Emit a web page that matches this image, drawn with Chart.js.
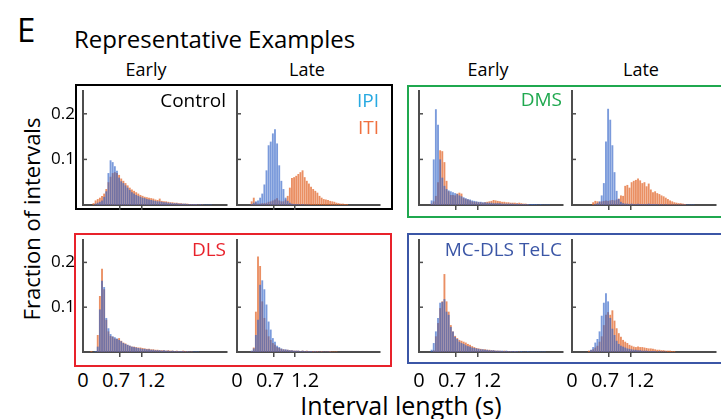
<!DOCTYPE html>
<html>
<head>
<meta charset="utf-8">
<script src="https://cdn.jsdelivr.net/npm/chart.js@4.4.1/dist/chart.umd.min.js"></script>
<style>
  body { margin: 0; width: 721px; height: 419px; overflow: hidden; background: #fff;
         font-family: "Open Sans", sans-serif; color: #000; position: relative; }
  .t { position: absolute; white-space: nowrap; line-height: 1; }
  .c { transform: translateX(-50%); }
  .box { position: absolute; box-sizing: border-box; border: 2.5px solid; }
  canvas { position: absolute; }
</style>
</head>
<body>

<div class="t" style="left:17px;top:13px;font-size:33px">E</div>
<div class="t" style="left:74px;top:27px;font-size:24px">Representative Examples</div>

<div class="t c" style="left:146px;top:60px;font-size:18px">Early</div>
<div class="t c" style="left:307px;top:60px;font-size:18px">Late</div>
<div class="t c" style="left:488px;top:60px;font-size:18px">Early</div>
<div class="t c" style="left:641px;top:60px;font-size:18px">Late</div>

<div class="box" style="left:75px;top:84px;width:318px;height:126px;border-color:#000"></div>
<div class="box" style="left:407px;top:85px;width:330px;height:133px;border-color:#1fa84f"></div>
<div class="box" style="left:74px;top:233px;width:318px;height:134px;border-color:#e8222b"></div>
<div class="box" style="left:407px;top:233px;width:330px;height:131px;border-color:#3b56a6"></div>

<div class="t" style="left:31px;top:219px;font-size:22px;transform:translate(-50%,-50%) rotate(-90deg)">Fraction of intervals</div>
<div class="t c" style="left:401px;top:393px;font-size:25px">Interval length (s)</div>

<div id="root"></div>

<script>
// bin centres of the 0.05 s histogram bins
const binCenters = [
  0.025, 0.075, 0.125, 0.175, 0.225, 0.275, 0.325, 0.375, 0.425, 0.475,
  0.525, 0.575, 0.625, 0.675, 0.725, 0.775, 0.825, 0.875, 0.925, 0.975,
  1.025, 1.075, 1.125, 1.175, 1.225, 1.275, 1.325, 1.375, 1.425, 1.475,
  1.525, 1.575, 1.625, 1.675, 1.725, 1.775, 1.825, 1.875, 1.925, 1.975,
  2.025, 2.075, 2.125, 2.175, 2.225, 2.275, 2.325, 2.375, 2.425, 2.475,
  2.525, 2.575, 2.625, 2.675, 2.725, 2.775, 2.825, 2.875, 2.925, 2.975,
  3.025, 3.075, 3.125, 3.175
];

const xTicks = [0.7, 1.2];
const yTicks = [0.1, 0.2];
const xTickLabels = ['0', '0.7', '1.2'];

// Control
const ctrlEarlyIPI = [0, 0, 0.003, 0.005, 0.007, 0.01, 0.018, 0.03, 0.07, 0.098,
  0.094, 0.085, 0.075, 0.06, 0.052, 0.048, 0.043, 0.038, 0.033, 0.028,
  0.025, 0.022, 0.02, 0.018, 0.016, 0.015, 0.013, 0.012, 0.011, 0.01,
  0.009, 0.008, 0.008, 0.007, 0.006, 0.006, 0.005, 0.005, 0.004, 0.004,
  0.004, 0.003, 0.003, 0.003, 0.003, 0.002, 0.002, 0.002, 0.002, 0.002,
  0.001, 0.002, 0.001, 0.001, 0.001, 0.001, 0.001];
const ctrlEarlyITI = [0, 0.004, 0.01, 0.013, 0.016, 0.02, 0.025, 0.035, 0.05, 0.062,
  0.07, 0.072, 0.07, 0.066, 0.058, 0.053, 0.048, 0.043, 0.038, 0.034,
  0.031, 0.028, 0.025, 0.022, 0.02, 0.018, 0.017, 0.016, 0.015, 0.014,
  0.012, 0.011, 0.014, 0.009, 0.008, 0.008, 0.007, 0.006, 0.006, 0.005,
  0.005, 0.004, 0.004, 0.003, 0.003, 0.003, 0.002, 0.002, 0.002, 0.002,
  0.001, 0.001, 0.001];
const ctrlLateIPI = [0, 0, 0, 0.002, 0.005, 0.008, 0.01, 0.016, 0.025, 0.045,
  0.076, 0.131, 0.139, 0.157, 0.166, 0.135, 0.087, 0.053, 0.035, 0.016,
  0.009, 0.005, 0.003, 0.002, 0.002, 0.002, 0.001, 0.002, 0.001, 0.001, 0.001];
const ctrlLateITI = [0, 0, 0, 0.008, 0.016, 0.006, 0.003, 0.003, 0.004, 0.004,
  0.005, 0.007, 0.008, 0.01, 0.012, 0.015, 0.01, 0.008, 0.008, 0.012,
  0.02, 0.038, 0.059, 0.061, 0.064, 0.068, 0.072, 0.076, 0.061, 0.053,
  0.047, 0.04, 0.035, 0.031, 0.027, 0.02, 0.016, 0.013, 0.012, 0.011,
  0.009, 0.008, 0.007, 0.005, 0.004, 0.003, 0.003, 0.002, 0.002];

// DMS
const dmsEarlyIPI = [0, 0, 0.01, 0.1, 0.21, 0.176, 0.1, 0.06, 0.042, 0.035,
  0.032, 0.03, 0.028, 0.026, 0.024, 0.021, 0.019, 0.017, 0.015, 0.013,
  0.012, 0.01, 0.009, 0.008, 0.007, 0.007, 0.006, 0.006, 0.005, 0.005,
  0.005, 0.004, 0.004, 0.004, 0.004, 0.003, 0.003, 0.003, 0.003, 0.003,
  0.003, 0.002, 0.003, 0.002, 0.002, 0.002, 0.002, 0.002, 0.002, 0.002,
  0.002, 0.002, 0.001, 0.002, 0.001, 0.001, 0.001, 0.001];
const dmsEarlyITI = [0, 0, 0.003, 0.008, 0.02, 0.05, 0.12, 0.118, 0.094, 0.053,
  0.03, 0.022, 0.022, 0.021, 0.025, 0.027, 0.025, 0.015, 0.013, 0.012,
  0.01, 0.008, 0.007, 0.007, 0.006, 0.006, 0.005, 0.006, 0.007, 0.008,
  0.009, 0.011, 0.01, 0.009, 0.008, 0.007, 0.007, 0.006, 0.006, 0.005,
  0.005, 0.005, 0.004, 0.005, 0.004, 0.003, 0.003, 0.002];
const dmsLateIPI = [0, 0, 0, 0, 0, 0, 0, 0.002, 0.004, 0.008,
  0.021, 0.048, 0.139, 0.211, 0.187, 0.131, 0.072, 0.031, 0.013, 0.007,
  0.004, 0.003, 0.003, 0.002, 0.003, 0.002, 0.002, 0.003, 0.002, 0.002,
  0.002, 0.002, 0.003, 0.002, 0.002, 0.002, 0.002, 0.001, 0.002, 0.001,
  0.002, 0.001, 0.001, 0.001, 0.001, 0.001, 0.001, 0.001, 0.001, 0.001,
  0.001, 0.001, 0.001, 0.001];
const dmsLateITI = [0, 0, 0, 0, 0, 0, 0.006, 0.009, 0.008, 0.007,
  0.008, 0.009, 0.01, 0.009, 0.01, 0.011, 0.01, 0.012, 0.014, 0.021,
  0.02, 0.042, 0.044, 0.038, 0.05, 0.053, 0.055, 0.058, 0.054, 0.048,
  0.05, 0.041, 0.047, 0.034, 0.028, 0.03, 0.026, 0.024, 0.021, 0.019,
  0.016, 0.013, 0.01, 0.008, 0.006, 0.005, 0.004, 0.004, 0.003, 0.002];

// DLS
const dlsEarlyIPI = [0, 0, 0.002, 0.012, 0.095, 0.159, 0.145, 0.076, 0.053, 0.04,
  0.035, 0.033, 0.03, 0.027, 0.024, 0.02, 0.018, 0.016, 0.014, 0.012,
  0.011, 0.01, 0.009, 0.008, 0.007, 0.007, 0.006, 0.006, 0.005, 0.005,
  0.004, 0.004, 0.004, 0.003, 0.004, 0.003, 0.003, 0.002, 0.003, 0.002,
  0.002, 0.002, 0.002, 0.002, 0.001, 0.002, 0.001, 0.001, 0.001, 0.001, 0.001];
const dlsEarlyITI = [0.002, 0, 0, 0.038, 0.125, 0.186, 0.14, 0.072, 0.046, 0.036,
  0.034, 0.03, 0.029, 0.031, 0.025, 0.021, 0.019, 0.016, 0.014, 0.012,
  0.012, 0.011, 0.01, 0.01, 0.009, 0.008, 0.007, 0.007, 0.006, 0.006,
  0.005, 0.005, 0.004, 0.004, 0.004, 0.003, 0.004, 0.003, 0.003, 0.002,
  0.003, 0.002, 0.002, 0.003, 0.002, 0.002, 0.001, 0.001];
const dlsLateIPI = [0, 0, 0, 0.003, 0.008, 0.038, 0.072, 0.15, 0.16, 0.14,
  0.106, 0.068, 0.05, 0.031, 0.023, 0.014, 0.011, 0.008, 0.006, 0.006,
  0.005, 0.004, 0.004, 0.003, 0.003, 0.003, 0.002, 0.003, 0.002, 0.002,
  0.002, 0.002, 0.001, 0.002, 0.001, 0.001, 0.001, 0.001, 0.001, 0.001, 0.001];
const dlsLateITI = [0, 0, 0, 0.002, 0.01, 0.09, 0.213, 0.192, 0.113, 0.076,
  0.05, 0.035, 0.027, 0.02, 0.016, 0.011, 0.009, 0.007, 0.006, 0.005,
  0.005, 0.004, 0.004, 0.003, 0.003, 0.003, 0.002, 0.003, 0.002, 0.003,
  0.002, 0.002, 0.002, 0.002, 0.002, 0.001, 0.002, 0.001, 0.001, 0.001,
  0.002, 0.001, 0.001, 0.001];

// MC-DLS TeLC
const mcEarlyIPI = [0, 0, 0.005, 0.02, 0.046, 0.076, 0.11, 0.112, 0.118, 0.09,
  0.083, 0.056, 0.046, 0.034, 0.029, 0.023, 0.02, 0.018, 0.015, 0.013,
  0.012, 0.01, 0.009, 0.008, 0.007, 0.006, 0.006, 0.005, 0.005, 0.004,
  0.004, 0.004, 0.003, 0.003, 0.003, 0.003, 0.002, 0.003, 0.002, 0.002,
  0.002, 0.002, 0.002, 0.001, 0.002, 0.001, 0.001, 0.002, 0.001, 0.001,
  0.001, 0.001, 0.001, 0.001, 0.001, 0.001];
const mcEarlyITI = [0, 0, 0, 0.004, 0.035, 0.065, 0.098, 0.113, 0.174, 0.113,
  0.09, 0.06, 0.046, 0.036, 0.031, 0.027, 0.025, 0.023, 0.021, 0.018,
  0.016, 0.013, 0.011, 0.009, 0.008, 0.007, 0.006, 0.006, 0.005, 0.005,
  0.004, 0.004, 0.003, 0.003, 0.003, 0.002, 0.003, 0.002, 0.002, 0.002,
  0.001, 0.002, 0.001, 0.001];
const mcLateIPI = [0, 0, 0, 0, 0, 0.005, 0.011, 0.021, 0.029, 0.046,
  0.081, 0.11, 0.131, 0.113, 0.076, 0.052, 0.038, 0.025, 0.018, 0.014,
  0.012, 0.01, 0.008, 0.007, 0.006, 0.005, 0.005, 0.004, 0.004, 0.003,
  0.003, 0.003, 0.002, 0.002, 0.002, 0.002, 0.001, 0.002, 0.001, 0.001, 0.001];
const mcLateITI = [0, 0, 0, 0, 0.003, 0.004, 0.006, 0.01, 0.014, 0.023,
  0.035, 0.06, 0.083, 0.089, 0.083, 0.093, 0.07, 0.053, 0.042, 0.034,
  0.027, 0.023, 0.02, 0.016, 0.014, 0.012, 0.011, 0.012, 0.011, 0.011,
  0.01, 0.009, 0.008, 0.008, 0.007, 0.006, 0.005, 0.005, 0.004, 0.004,
  0.003, 0.003, 0.003, 0.002, 0.002];

const ipiColor = 'rgba(50, 100, 200, 0.65)';
const itiColor = 'rgba(226, 104, 44, 0.74)';
const axisColor = '#4d4d4d';

// plot area of every panel, in page pixels
const panels = [
  { ipi: ctrlEarlyIPI, iti: ctrlEarlyITI, x0: 83,  x1: 227, y0: 91,  y1: 205, showY: true },
  { ipi: ctrlLateIPI,  iti: ctrlLateITI,  x0: 237, x1: 380, y0: 91,  y1: 205, showY: false },
  { ipi: dmsEarlyIPI,  iti: dmsEarlyITI,  x0: 419, x1: 563, y0: 91,  y1: 205, showY: false },
  { ipi: dmsLateIPI,   iti: dmsLateITI,   x0: 572, x1: 716, y0: 91,  y1: 205, showY: false },
  { ipi: dlsEarlyIPI,  iti: dlsEarlyITI,  x0: 83,  x1: 227, y0: 240, y1: 352, showY: true, xLabels: true },
  { ipi: dlsLateIPI,   iti: dlsLateITI,   x0: 237, x1: 380, y0: 240, y1: 352, showY: false, xLabels: true },
  { ipi: mcEarlyIPI,   iti: mcEarlyITI,   x0: 419, x1: 563, y0: 240, y1: 352, showY: false, xLabels: true },
  { ipi: mcLateIPI,    iti: mcLateITI,    x0: 572, x1: 716, y0: 240, y1: 352, showY: false, xLabels: true }
];

// panel name labels
const panelLabels = [
  { text: 'Control', color: '#000',    right: 226, top: 91 },
  { text: 'IPI',     color: '#27a9e1', right: 379, top: 91 },
  { text: 'ITI',     color: '#f0703e', right: 379, top: 118 },
  { text: 'DMS',     color: '#1fa84f', right: 562, top: 90 },
  { text: 'DLS',     color: '#e8222b', right: 226, top: 240 },
  { text: 'MC-DLS TeLC', color: '#3b56a6', right: 562, top: 240 }
];
const xLabelOffsets = [0, 33, 68];

const Y_W = 40, X_H = 10, PAD = 2;

const innerTicks = {
  id: 'innerTicks',
  afterDatasetsDraw(chart) {
    const y = chart.scales.y, ctx = chart.ctx, left = chart.chartArea.left;
    ctx.save();
    ctx.strokeStyle = axisColor;
    ctx.lineWidth = 1.5;
    y.ticks.forEach(t => {
      const py = y.getPixelForValue(t.value);
      ctx.beginPath();
      ctx.moveTo(left, py);
      ctx.lineTo(left + 4, py);
      ctx.stroke();
    });
    ctx.restore();
  }
};

const toPoints = arr => arr.map((v, i) => ({ x: binCenters[i], y: v }));

const root = document.getElementById('root');

panels.forEach(p => {
  const cv = document.createElement('canvas');
  const w = (p.x1 - p.x0) + Y_W + PAD;
  const h = (p.y1 - p.y0) + X_H + PAD;
  cv.width = w; cv.height = h;
  cv.style.left = (p.x0 - Y_W) + 'px';
  cv.style.top = (p.y0 - PAD) + 'px';
  cv.style.width = w + 'px'; cv.style.height = h + 'px';
  root.appendChild(cv);

  new Chart(cv, {
    type: 'bar',
    data: {
      datasets: [
        { label: 'IPI', data: toPoints(p.ipi), backgroundColor: ipiColor, grouped: false,
          barPercentage: 0.88, categoryPercentage: 1, borderWidth: 0 },
        { label: 'ITI', data: toPoints(p.iti), backgroundColor: itiColor, grouped: false,
          barPercentage: 0.88, categoryPercentage: 1, borderWidth: 0 }
      ]
    },
    options: {
      responsive: false,
      animation: false,
      layout: { padding: { top: PAD, right: PAD, left: 0, bottom: 0 } },
      plugins: { legend: { display: false }, tooltip: { enabled: false } },
      scales: {
        x: {
          type: 'linear', min: -0.17, max: 3.2, offset: false,
          afterBuildTicks: s => { s.ticks = xTicks.map(v => ({ value: v })); },
          afterFit: s => { s.height = X_H; s.paddingLeft = 0; s.paddingRight = 0; },
          ticks: { display: false },
          grid: { offset: false, drawOnChartArea: false, drawTicks: true, tickLength: 5,
                  color: axisColor, lineWidth: 1.5 },
          border: { color: axisColor, width: 2 }
        },
        y: {
          min: 0, max: 0.25,
          afterBuildTicks: s => { s.ticks = yTicks.map(v => ({ value: v })); },
          // keep the plot area fixed: no room reserved for half a tick label
          afterFit: s => { s.width = Y_W; s.paddingTop = 0; s.paddingBottom = 0; },
          ticks: { display: p.showY, padding: 8, color: '#000',
                   font: { family: 'Open Sans', size: 17 } },
          grid: { display: false, drawTicks: false },
          border: { color: axisColor, width: 2 }
        }
      }
    },
    plugins: [innerTicks]
  });

  if (p.xLabels) {
    xTickLabels.forEach((txt, i) => {
      const d = document.createElement('div');
      d.className = 't c';
      d.style.left = (p.x0 + xLabelOffsets[i]) + 'px';
      d.style.top = '370px';
      d.style.fontSize = '20px';
      d.textContent = txt;
      root.appendChild(d);
    });
  }
});

panelLabels.forEach(l => {
  const d = document.createElement('div');
  d.className = 't';
  d.style.right = (721 - l.right) + 'px';
  d.style.top = l.top + 'px';
  d.style.fontSize = '19px';
  d.style.color = l.color;
  d.textContent = l.text;
  root.appendChild(d);
});
</script>
</body>
</html>
